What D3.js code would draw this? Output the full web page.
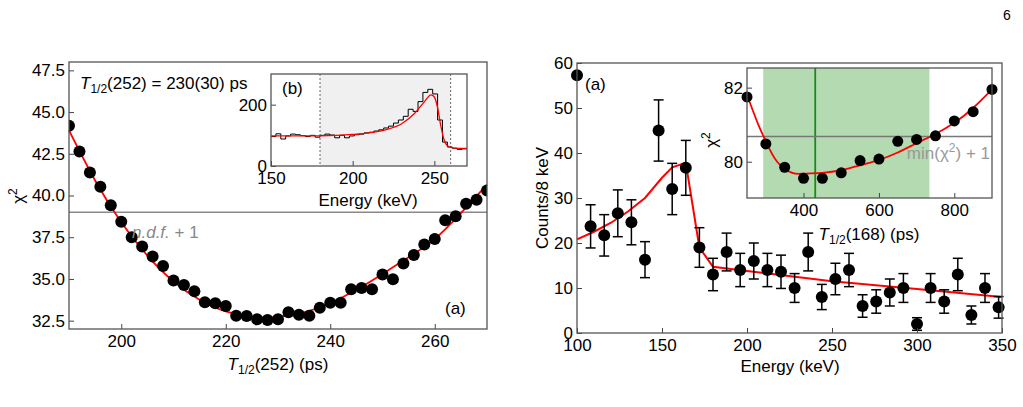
<!DOCTYPE html>
<html><head><meta charset="utf-8">
<script src="https://cdn.jsdelivr.net/npm/d3@7"></script>
<style>
body{margin:0;background:#fff;}
text{font-family:"Liberation Sans",Arial,sans-serif;fill:#000;}
.axis path,.axis line{stroke:#444;}
</style></head><body>
<svg id="c" width="1023" height="407"></svg>
<script>
// left panel: chi2 vs T1/2(252)
const chiT = [190,192,194,196,198,200,202,204,206,208,210,212,214,216,218,220,222,224,226,228,230,232,234,236,238,240,242,244,246,248,250,252,254,256,258,260,262,264,266,268,270];
const chiV = [44.18,42.64,41.38,40.52,39.42,38.42,37.5,36.94,36.34,35.78,34.9,34.64,34.26,33.6,33.54,33.38,32.8,32.78,32.58,32.54,32.58,33.0,32.86,32.8,33.28,33.58,33.58,34.38,34.46,34.38,35.26,34.98,35.92,36.44,37.06,37.4,38.52,38.76,39.5,39.74,40.3];
const fitT = [190,195,200,205,210,215,220,225,228,230,235,240,245,250,255,260,265,270];
const fitV = [43.9,40.9,38.4,36.4,34.85,33.75,33.05,32.72,32.68,32.72,33.0,33.55,34.35,35.3,36.3,37.4,38.95,40.65];
// inset (b): spectrum, 3 keV bins
const specE = d3.range(150, 270, 3);
const specC = [96,105,88,98,104,102,99,96,100,94,100,104,101,92,100,92,98,102,104,108,110,114,118,124,130,140,150,162,185,178,210,240,250,235,150,78,62,58,54,56];
const specFitE = [150,170,190,200,210,220,230,238,244,248,250,252,254,256,258,262,270];
const specFitC = [98,98,100,103,108,118,138,172,210,232,225,190,130,85,66,58,57];
// right panel: spectrum
const enE = [100,108,116,124,132,140,148,156,164,172,180,188,196,204,212,220,228,236,244,252,260,268,276,284,292,300,308,316,324,332,340,348];
const enC = [57.3,23.7,21.7,26.6,24.6,16.3,45,32,36.7,19,13,18,14,16,14,13.6,10,18,8,12,14,6,7,9,10,2,10,7,13,4,10,5.7];
const enErr = [0,4.8,4.6,5.2,5.0,4.0,6.8,5.7,6.1,4.4,3.6,4.2,3.7,4.0,3.7,3.7,3.2,4.2,2.8,3.5,3.7,2.5,2.6,3.0,3.2,1.4,3.2,2.6,3.6,2.0,3.2,2.4];
const enFitE = [100,110,120,130,140,150,156,164,172,180,200,250,300,350];
const enFitC = [20.8,22.5,24.5,27,30,34.5,36.8,37.8,19,14.7,13.8,11.5,9.8,8];
// inset: chi2 vs T1/2(168)
const t168 = [250,300,350,400,450,500,550,600,650,700,750,800,850,900];
const c168 = [81.75,80.48,79.85,79.55,79.55,79.7,80.03,80.07,80.55,80.6,80.7,81.1,81.35,81.95];
const fit168T = [250,280,300,330,370,400,450,500,550,600,650,700,750,800,850,900];
const fit168C = [81.8,81.0,80.55,80.0,79.7,79.68,79.7,79.77,79.9,80.05,80.25,80.5,80.75,81.05,81.45,81.95];

const FS = 17;
const svg = d3.select("#c");
svg.append("text").attr("x",1003).attr("y",20).attr("font-size",14).text("6");

function frame(g, x, y, w, h) {
  g.append("rect").attr("x",x).attr("y",y).attr("width",w).attr("height",h)
    .attr("fill","none").attr("stroke","#555").attr("stroke-width",1.3);
}
function axes(g, x, y, xt, yt, fs, yfmt) {
  const [x0,x1] = x.range(), [y0,y1] = y.range();
  const ax = g.append("g").attr("class","axis").attr("transform",`translate(0,${y0})`)
    .call(d3.axisBottom(x).tickValues(xt).tickSize(-5).tickPadding(6));
  const ay = g.append("g").attr("class","axis").attr("transform",`translate(${x0},0)`)
    .call(d3.axisLeft(y).tickValues(yt).tickSize(-5).tickPadding(4).tickFormat(yfmt || d3.format("")));
  [ax,ay].forEach(a => { a.select(".domain").remove(); a.selectAll("text").attr("font-size",fs).attr("fill","#000"); });
  frame(g, x0, y1, x1-x0, y0-y1);
}
const red = "#f00";

// ---- left main
{
  const g = svg.append("g");
  const x = d3.scaleLinear().domain([190,270]).range([69,487]);
  const y = d3.scaleLinear().domain([32,48]).range([329,62]);
  g.append("clipPath").attr("id","cl1").append("rect").attr("x",69).attr("y",62).attr("width",418).attr("height",267);
  g.append("line").attr("x1",69).attr("x2",487).attr("y1",y(39)).attr("y2",y(39)).attr("stroke","#888").attr("stroke-width",1.5);
  g.append("path").datum(fitT.map((t,i)=>[t,fitV[i]])).attr("fill","none").attr("stroke",red).attr("stroke-width",1.8)
    .attr("d",d3.line().x(d=>x(d[0])).y(d=>y(d[1])).curve(d3.curveNatural));
  g.append("g").attr("clip-path","url(#cl1)").selectAll("circle").data(chiT).join("circle")
    .attr("cx",d=>x(d)).attr("cy",(d,i)=>y(chiV[i])).attr("r",6).attr("fill","#000");
  axes(g, x, y, [200,220,240,260], [32.5,35,37.5,40,42.5,45,47.5], FS, d3.format(".1f"));
  g.append("text").attr("x",132).attr("y",238).attr("font-size",FS).style("fill","#888")
    .attr("font-style","italic").text("n.d.f.").append("tspan").attr("font-style","normal").text(" + 1");
  const t = g.append("text").attr("x",80).attr("y",89).attr("font-size",FS);
  t.append("tspan").attr("font-style","italic").text("T");
  t.append("tspan").attr("font-size",12).attr("dy",4).text("1/2");
  t.append("tspan").attr("dy",-4).text("(252) = 230(30) ps");
  g.append("text").attr("x",445).attr("y",314).attr("font-size",FS).text("(a)");
  const xl = g.append("text").attr("x",278).attr("y",370).attr("text-anchor","middle").attr("font-size",FS);
  xl.append("tspan").attr("font-style","italic").text("T");
  xl.append("tspan").attr("font-size",12).attr("dy",4).text("1/2");
  xl.append("tspan").attr("dy",-4).text("(252) (ps)");
  g.append("text").attr("transform","translate(24,196) rotate(-90)").attr("text-anchor","middle").attr("font-size",FS)
    .text("χ").append("tspan").attr("font-size",12).attr("dy",-7).text("2");
}
// ---- left inset
{
  const g = svg.append("g");
  const x = d3.scaleLinear().domain([150,270]).range([271,467]);
  const y = d3.scaleLinear().domain([0,300]).range([166,74]);
  g.append("rect").attr("x",x(180)).attr("y",74).attr("width",x(260)-x(180)).attr("height",92).attr("fill","#f0f0f0");
  [180,260].forEach(v => g.append("line").attr("x1",x(v)).attr("x2",x(v)).attr("y1",74).attr("y2",166)
    .attr("stroke","#666").attr("stroke-dasharray","2,2"));
  g.append("path").datum(specE.map((e,i)=>[e,specC[i]]).concat([[270,specC[specC.length-1]]])).attr("fill","none")
    .attr("stroke","#000").attr("stroke-width",1).attr("d",d3.line().x(d=>x(d[0])).y(d=>y(d[1])).curve(d3.curveStepAfter));
  g.append("path").datum(specFitE.map((e,i)=>[e,specFitC[i]])).attr("fill","none").attr("stroke",red).attr("stroke-width",1.3)
    .attr("d",d3.line().x(d=>x(d[0])).y(d=>y(d[1])).curve(d3.curveMonotoneX));
  axes(g, x, y, [150,200,250], [0,200], FS);
  g.append("text").attr("x",282).attr("y",94).attr("font-size",FS).text("(b)");
  g.append("text").attr("x",368).attr("y",206).attr("text-anchor","middle").attr("font-size",FS).text("Energy (keV)");
}
// ---- right main
{
  const g = svg.append("g");
  const x = d3.scaleLinear().domain([100,350]).range([577,1002]);
  const y = d3.scaleLinear().domain([0,60]).range([333,63]);
  g.append("path").datum(enFitE.map((e,i)=>[e,enFitC[i]])).attr("fill","none").attr("stroke",red).attr("stroke-width",2)
    .attr("d",d3.line().x(d=>x(d[0])).y(d=>y(d[1])));
  const pts = g.append("g").selectAll("g").data(enE.map((e,i)=>({e,c:enC[i],s:enErr[i]}))).join("g");
  pts.filter(d=>d.s>0).each(function(d){
    const s = d3.select(this), xx = x(d.e);
    s.append("line").attr("x1",xx).attr("x2",xx).attr("y1",y(d.c-d.s)).attr("y2",y(d.c+d.s)).attr("stroke","#000").attr("stroke-width",1.5);
    [d.c-d.s,d.c+d.s].forEach(v=>s.append("line").attr("x1",xx-5).attr("x2",xx+5).attr("y1",y(v)).attr("y2",y(v)).attr("stroke","#000").attr("stroke-width",1.5));
  });
  pts.append("circle").attr("cx",d=>x(d.e)).attr("cy",d=>y(d.c)).attr("r",6).attr("fill","#000");
  axes(g, x, y, [100,150,200,250,300,350], [0,10,20,30,40,50,60], FS);
  g.append("text").attr("x",585).attr("y",90).attr("font-size",FS).text("(a)");
  g.append("text").attr("x",790).attr("y",372).attr("text-anchor","middle").attr("font-size",FS).text("Energy (keV)");
  g.append("text").attr("transform","translate(548,198) rotate(-90)").attr("text-anchor","middle").attr("font-size",FS).text("Counts/8 keV");
}
// ---- right inset
{
  const g = svg.append("g");
  const x = d3.scaleLinear().domain([250,900]).range([747,992]);
  const y = d3.scaleLinear().domain([79.02,82.53]).range([198,68]);
  g.append("rect").attr("x",747).attr("y",68).attr("width",245).attr("height",130).attr("fill","#fff");
  g.append("rect").attr("x",x(293)).attr("y",68).attr("width",x(734)-x(293)).attr("height",130).attr("fill","#b3dab0");
  g.append("line").attr("x1",x(431)).attr("x2",x(431)).attr("y1",68).attr("y2",198).attr("stroke","#1a8a1a").attr("stroke-width",1.8);
  g.append("line").attr("x1",747).attr("x2",992).attr("y1",y(80.68)).attr("y2",y(80.68)).attr("stroke","#777").attr("stroke-width",1.3);
  g.append("path").datum(fit168T.map((t,i)=>[t,fit168C[i]])).attr("fill","none").attr("stroke",red).attr("stroke-width",1.8)
    .attr("d",d3.line().x(d=>x(d[0])).y(d=>y(d[1])).curve(d3.curveNatural));
  g.append("g").selectAll("circle").data(t168).join("circle")
    .attr("cx",d=>x(d)).attr("cy",(d,i)=>y(c168[i])).attr("r",5.5).attr("fill","#000");
  axes(g, x, y, [400,600,800], [80,82], FS);
  const m = g.append("text").attr("x",990).attr("y",159).attr("text-anchor","end").attr("font-size",FS).style("fill","#999");
  m.append("tspan").text("min(χ");
  m.append("tspan").attr("font-size",12).attr("dy",-7).text("2");
  m.append("tspan").attr("dy",7).text(") + 1");
  const xl = g.append("text").attr("x",869).attr("y",240).attr("text-anchor","middle").attr("font-size",FS);
  xl.append("tspan").attr("font-style","italic").text("T");
  xl.append("tspan").attr("font-size",12).attr("dy",4).text("1/2");
  xl.append("tspan").attr("dy",-4).text("(168) (ps)");
  g.append("text").attr("transform","translate(717,140) rotate(-90)").attr("text-anchor","middle").attr("font-size",FS)
    .text("χ").append("tspan").attr("font-size",12).attr("dy",-7).text("2");
}
</script></body></html>
